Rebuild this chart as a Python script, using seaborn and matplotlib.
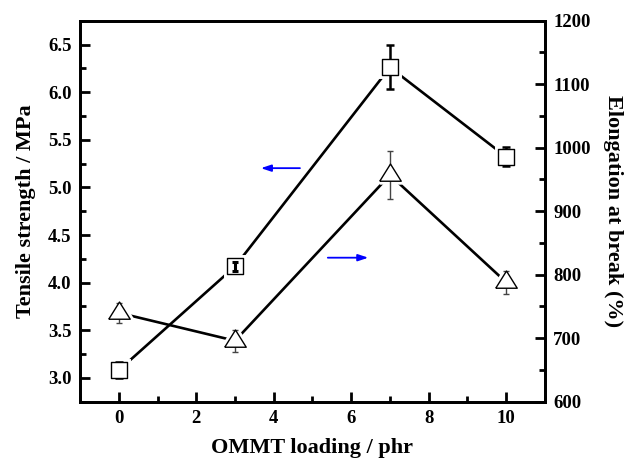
import matplotlib
matplotlib.use("Agg")
import matplotlib.pyplot as plt
import seaborn as sns
import pandas as pd
import numpy as np
from matplotlib.ticker import MultipleLocator

loading = [0, 3, 7, 10]
tensile = [3.08, 4.17, 6.26, 5.32]
tensile_err = [0.085, 0.05, 0.23, 0.10]
elong = [740, 696, 957, 788]
elong_err = [16, 17, 38, 18]

df = pd.DataFrame({"loading": loading, "tensile": tensile, "elong": elong,
                   "tensile_err": tensile_err, "elong_err": elong_err})

sns.set_style("ticks")
plt.rcParams["font.family"] = ["Liberation Serif", "DejaVu Serif"]
plt.rcParams["font.weight"] = "bold"
plt.rcParams["axes.labelweight"] = "bold"
for k in ["text.color", "axes.labelcolor", "xtick.color", "ytick.color", "axes.edgecolor"]:
    plt.rcParams[k] = "black"

fig = plt.figure(figsize=(6.27, 4.61), dpi=100)
ax = fig.add_axes([0.1276, 0.1286, 0.7416, 0.8265])
ax2 = ax.twinx()

# triangle whose centroid is the data point
tri = [(-1.25, -0.6667), (1.25, -0.6667), (0, 1.3333), (-1.25, -0.6667)]
tri_ms = 16.5
sq_ms = 11.5

# lines
sns.lineplot(data=df, x="loading", y="tensile", ax=ax, color="black", lw=1.9, zorder=2)
sns.lineplot(data=df, x="loading", y="elong", ax=ax2, color="black", lw=1.9, zorder=2)
# white halos for gaps between line and markers
ax.plot(df["loading"], df["tensile"], ls="none", marker="s", ms=sq_ms, mfc="white",
        mec="white", mew=5, zorder=3)
ax2.plot(df["loading"], df["elong"], ls="none", marker=tri, ms=tri_ms, mfc="white",
         mec="white", mew=5, zorder=3)

# error bars (small ones, lying inside the square, are drawn over it)
inside = df["tensile_err"] < 0.07
big = df[~inside]
small = df[inside]
ax.errorbar(big["loading"], big["tensile"], yerr=big["tensile_err"], fmt="none",
            ecolor="black", elinewidth=1.8, capsize=3, capthick=1.8, zorder=4)
ax.errorbar(small["loading"], small["tensile"], yerr=small["tensile_err"], fmt="none",
            ecolor="black", elinewidth=2.2, capsize=2.5, capthick=2.2, zorder=6)
ax2.errorbar(df["loading"], df["elong"], yerr=df["elong_err"], fmt="none",
             ecolor="#444444", elinewidth=1.0, capsize=2.5, capthick=1.0, zorder=4)

# markers
sns.scatterplot(data=df, x="loading", y="tensile", ax=ax, marker="s", s=sq_ms**2,
                facecolor="white", edgecolor="black", linewidth=1.0, zorder=5)
sns.scatterplot(data=df, x="loading", y="elong", ax=ax2, marker=tri, s=tri_ms**2,
                facecolor="white", edgecolor="black", linewidth=1.0, zorder=5)

ax.set_xlim(-1, 11)
ax.set_ylim(2.75, 6.75)
ax2.set_ylim(600, 1200)
ax.set_xticks([0, 2, 4, 6, 8, 10])
ax.xaxis.set_minor_locator(MultipleLocator(1))
yt = [3.0, 3.5, 4.0, 4.5, 5.0, 5.5, 6.0, 6.5]
ax.set_yticks(yt)
ax.set_yticklabels([f"{v:.1f}" for v in yt])
ax.yaxis.set_minor_locator(MultipleLocator(0.25))
ax2.set_yticks([600, 700, 800, 900, 1000, 1100, 1200])
ax2.yaxis.set_minor_locator(MultipleLocator(50))

for a in (ax, ax2):
    for s in a.spines.values():
        s.set_linewidth(2)
        s.set_visible(True)
ax.tick_params(axis="both", which="both", direction="in", width=2, labelsize=13.5,
               top=False, right=False, pad=6)
ax.tick_params(which="major", length=7)
ax.tick_params(which="minor", length=4)
ax2.tick_params(axis="y", which="both", direction="in", width=2, labelsize=13.5,
                left=False, right=True, pad=6)
ax2.tick_params(which="major", length=7)
ax2.tick_params(which="minor", length=4)
for lab in ax.get_xticklabels() + ax.get_yticklabels() + ax2.get_yticklabels():
    lab.set_fontweight("bold")

ax.set_xlabel("OMMT loading / phr", fontsize=16, fontweight="bold", labelpad=8)
ax.set_ylabel("Tensile strength / MPa", fontsize=16, fontweight="bold", labelpad=9)
ax2.set_ylabel("Elongation at break (%)", fontsize=16, fontweight="bold", rotation=270,
               labelpad=23)

arrow = dict(arrowstyle="-|>,head_length=0.6,head_width=0.2", color="blue", lw=1.3)
ax.annotate("", xy=(0.383, 0.613), xytext=(0.479, 0.613), xycoords="axes fraction",
            arrowprops=arrow)
ax.annotate("", xy=(0.626, 0.378), xytext=(0.527, 0.378), xycoords="axes fraction",
            arrowprops=arrow)

fig.savefig("out.png", dpi=100)
